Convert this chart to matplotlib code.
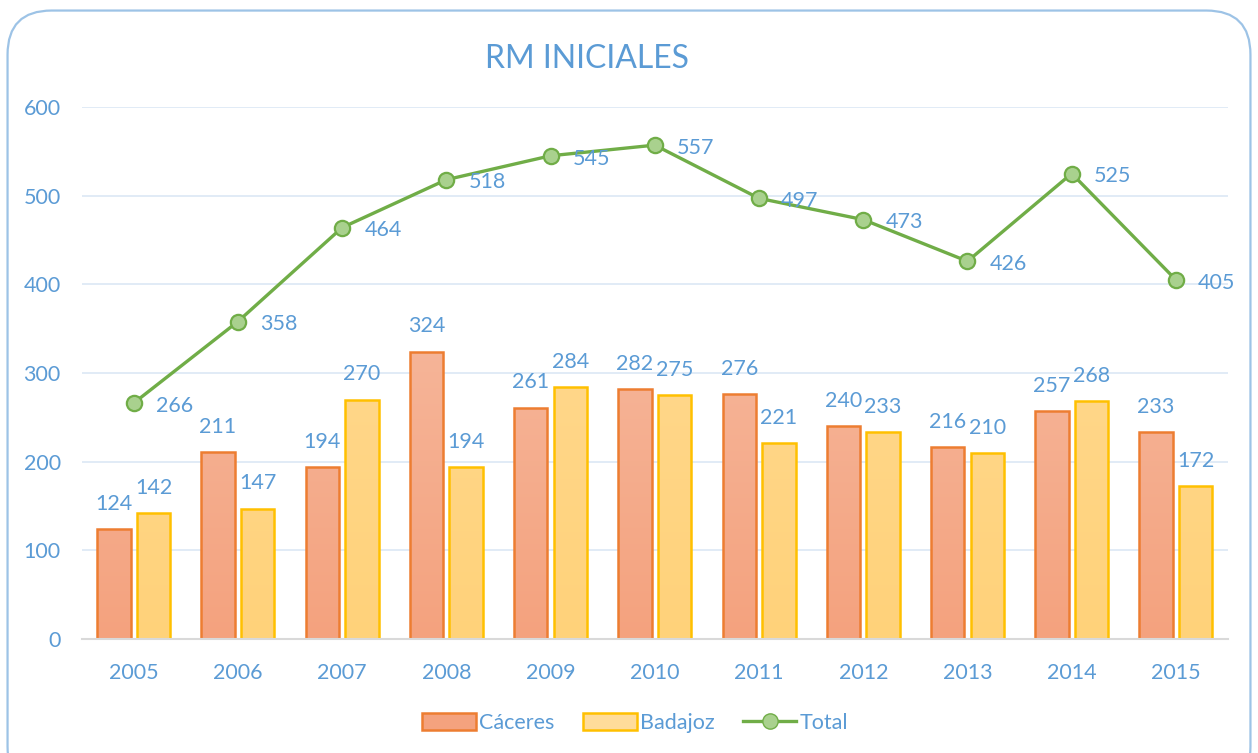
import matplotlib
matplotlib.use("Agg")
import matplotlib.pyplot as plt
import numpy as np
from matplotlib.patches import FancyBboxPatch, Rectangle
from matplotlib.lines import Line2D
from matplotlib.colors import LinearSegmentedColormap

plt.rcParams["font.family"] = ["Lato", "DejaVu Sans"]

# ── Data ──────────────────────────────────────────────────────────────────────
years    = ["2005", "2006", "2007", "2008", "2009", "2010",
            "2011", "2012", "2013", "2014", "2015"]
caceres  = [124, 211, 194, 324, 261, 282, 276, 240, 216, 257, 233]
badajoz  = [142, 147, 270, 194, 284, 275, 221, 233, 210, 268, 172]
total    = [266, 358, 464, 518, 545, 557, 497, 473, 426, 525, 405]

# ── Colors ────────────────────────────────────────────────────────────────────
TXT       = "#5B9BD5"
C_EDGE    = "#ED7D31"
C_TOP     = "#F7C4AE"
C_BOT     = "#F4A27E"
B_EDGE    = "#FFC000"
B_TOP     = "#FFDC9A"
B_BOT     = "#FFD27A"
GREEN     = "#70AD47"
GREEN_FC  = "#A9D18E"
GRID      = "#DCE8F5"
FRAME     = "#9DC3E6"
FS        = 15.5

fig = plt.figure(figsize=(12.58, 7.53), dpi=100, facecolor="white")
frame = FancyBboxPatch((0.006, -0.05), 0.988, 1.036,
                       boxstyle="round,pad=0,rounding_size=0.035",
                       transform=fig.transFigure, facecolor="none",
                       edgecolor=FRAME, linewidth=1.6,
                       mutation_aspect=1258 / 753, zorder=10)
fig.patches.append(frame)

ax = fig.add_axes([0.0648, 0.1514, 0.9114, 0.7065])
ax.set_facecolor("none")

x = np.arange(len(years))
w = 0.32
off = 0.19


def gradient_bars(xs, vals, top, bot, edge):
    cmap = LinearSegmentedColormap.from_list("g", [bot, top])
    grad = np.linspace(0, 1, 256).reshape(-1, 1)
    bars = ax.bar(xs, vals, width=w, facecolor="none", edgecolor=edge,
                  linewidth=1.8, zorder=3)
    for b in bars:
        x0, y0 = b.get_x(), b.get_y()
        im = ax.imshow(grad, cmap=cmap, origin="lower", aspect="auto",
                       extent=(x0, x0 + b.get_width(), 0, 600), zorder=2)
        im.set_clip_path(Rectangle((x0, y0), b.get_width(), b.get_height(),
                                   transform=ax.transData))
    return bars


bc = gradient_bars(x - off, caceres, C_TOP, C_BOT, C_EDGE)
bb = gradient_bars(x + off, badajoz, B_TOP, B_BOT, B_EDGE)

for xs, vals in ((x - off, caceres), (x + off, badajoz)):
    for xi, v in zip(xs, vals):
        ax.annotate(f"{v}", (xi, v), xytext=(0, 11), textcoords="offset points",
                    ha="center", va="bottom", color=TXT, fontsize=FS)

ax.plot(x, total, color=GREEN, linewidth=2.4, marker="o", markersize=11,
        markerfacecolor=GREEN_FC, markeredgecolor=GREEN, markeredgewidth=1.6,
        zorder=5)
for xi, v in zip(x, total):
    ax.annotate(f"{v}", (xi, v), xytext=(16, -2), textcoords="offset points",
                ha="left", va="center", color=TXT, fontsize=FS, zorder=6)

ax.set_xlim(-0.5, len(years) - 0.5)
ax.set_ylim(0, 600)
ax.set_yticks(range(0, 601, 100))
ax.set_xticks(x)
ax.set_xticklabels(years)
ax.tick_params(axis="both", length=0, labelsize=FS, labelcolor=TXT)
ax.tick_params(axis="y", pad=15)
ax.tick_params(axis="x", pad=17)
ax.grid(axis="y", color=GRID, linewidth=1.2, zorder=0)
ax.set_axisbelow(True)
for s in ("top", "right", "left"):
    ax.spines[s].set_visible(False)
ax.spines["bottom"].set_color("#D9D9D9")
ax.spines["bottom"].set_linewidth(1.5)
ax.spines["bottom"].set_zorder(4)

fig.text(0.467, 0.921, "RM INICIALES", ha="center", va="center",
         color=TXT, fontsize=23)

handles = [
    Rectangle((0, 0), 1, 1, facecolor=C_BOT, edgecolor=C_EDGE, linewidth=1.8),
    Rectangle((0, 0), 1, 1, facecolor=B_TOP, edgecolor=B_EDGE, linewidth=1.8),
    Line2D([], [], color=GREEN, linewidth=2.4, marker="o", markersize=11,
           markerfacecolor=GREEN_FC, markeredgecolor=GREEN),
]
leg = fig.legend(handles, ["Cáceres", "Badajoz", "Total"], loc="center",
                 bbox_to_anchor=(0.505, 0.04), ncol=3, frameon=False,
                 fontsize=FS, handlelength=2.5, handleheight=0.85,
                 handletextpad=0.15, columnspacing=1.3)
for t in leg.get_texts():
    t.set_color(TXT)

fig.savefig("out.png", dpi=100)
